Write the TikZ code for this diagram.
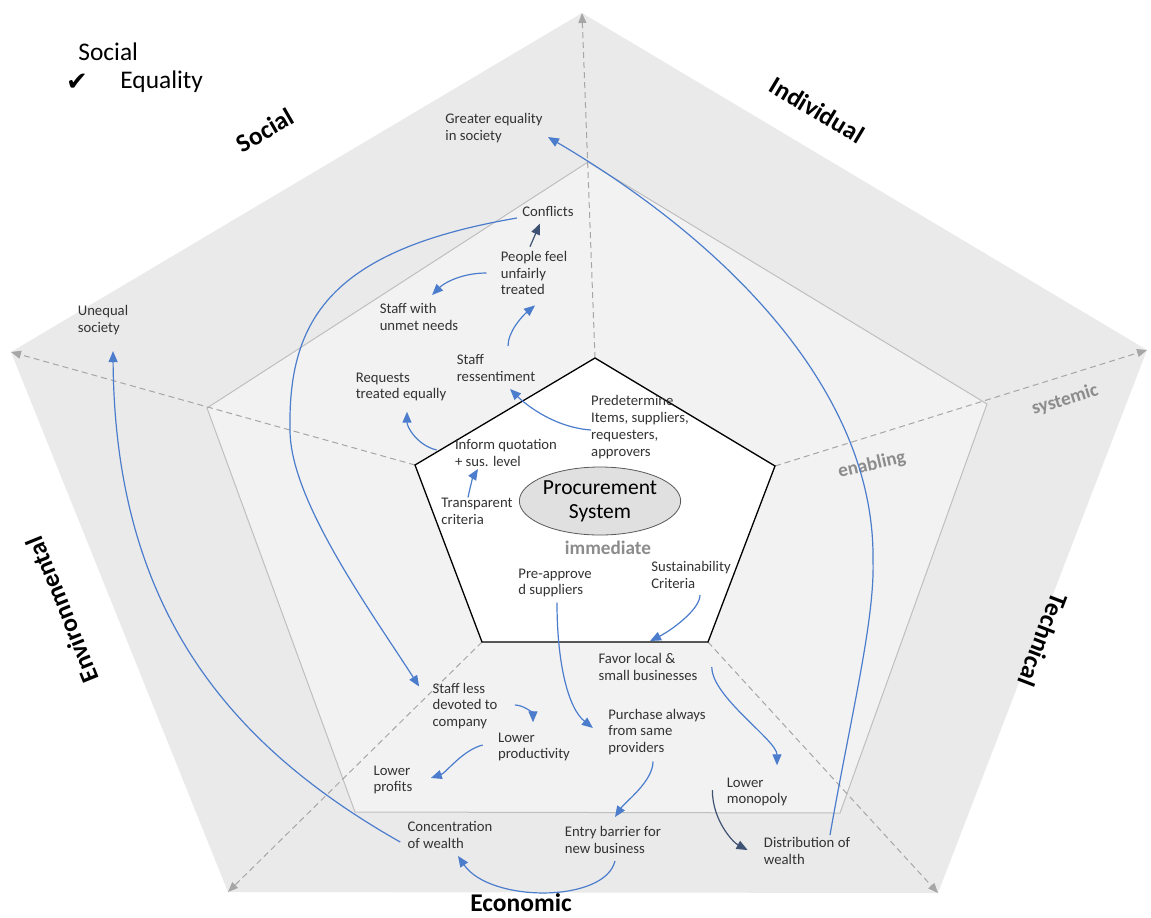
\documentclass[tikz,border=0pt]{standalone}
\usepackage{fontspec}
\setmainfont{Carlito}
\newfontfamily\tickfont{DejaVu Sans}
\usetikzlibrary{arrows.meta,shapes.geometric}
\definecolor{flowblue}{RGB}{76,125,205}
\definecolor{flowdark}{RGB}{62,82,115}
\definecolor{outerfill}{RGB}{234,234,234}
\definecolor{midfill}{RGB}{242,242,242}
\definecolor{levelgray}{RGB}{140,140,140}
\begin{document}
\begin{tikzpicture}[x=0.5pt,y=-0.5pt,
    lbl/.style={font=\fontsize{7.35}{8.4}\selectfont,align=left,inner sep=0pt,text=black!80},
    dimlbl/.style={font=\bfseries\fontsize{12.75}{14}\selectfont},
    levellbl/.style={font=\bfseries\fontsize{9.6}{11}\selectfont,text=levelgray},
    flow/.style={draw=flowblue,line width=0.6pt,-{Triangle[length=5.5pt,width=4.5pt]}},
    flowdk/.style={flow,draw=flowdark},
    axisline/.style={draw=black!35,line width=0.5pt,dash pattern=on 3pt off 2pt,
      -{Triangle[length=5pt,width=4pt]}}]
  \useasboundingbox (0,0) rectangle (1151,917);
  % pentagon corners: outer, middle, inner
  \coordinate (oT) at (582,13);   \coordinate (oR) at (1147,350);
  \coordinate (oBR) at (938,893); \coordinate (oBL) at (228,892);
  \coordinate (oL) at (11,352);
  \coordinate (mT) at (588,162);  \coordinate (mR) at (987,404);
  \coordinate (mBR) at (840,813); \coordinate (mBL) at (355,812);
  \coordinate (mL) at (207,408);
  \coordinate (iT) at (595,358);  \coordinate (iR) at (775,466);
  \coordinate (iBR) at (708,642); \coordinate (iBL) at (482,642);
  \coordinate (iL) at (415,465);
  \fill[outerfill] (oT)--(oR)--(oBR)--(oBL)--(oL)--cycle;
  \filldraw[fill=midfill,draw=black!25,line width=0.5pt] (mT)--(mR)--(mBR)--(mBL)--(mL)--cycle;
  \draw[axisline] (iT)--(oT);
  \draw[axisline] (iR)--(oR);
  \draw[axisline] (iBR)--(oBR);
  \draw[axisline] (iBL)--(oBL);
  \draw[axisline] (iL)--(oL);
  \filldraw[fill=white,draw=black,line width=0.65pt] (iT)--(iR)--(iBR)--(iBL)--(iL)--cycle;

  \node[ellipse,draw=black!65,fill=black!12,minimum width=80pt,minimum height=34pt,
    inner sep=0pt,align=center,font=\fontsize{10.75}{12}\selectfont] (ps) at (600,501)
    {Procurement\\System};

  % dimensions and levels
  \node[dimlbl,rotate=30] (social) at (265,130) {Social};
  \node[dimlbl,rotate=-31] (indiv) at (817,110) {Individual};
  \node[dimlbl,rotate=-111] (tech) at (1043,640) {Technical};
  \node[dimlbl,inner sep=0pt] (econ) at (521,903) {Economic};
  \node[dimlbl,rotate=112] (envir) at (62,610) {Environmental};
  \node[levellbl] (immed) at (608,548) {immediate};
  \node[levellbl,rotate=13] (enabl) at (872,465) {enabling};
  \node[levellbl,rotate=17] (syst) at (1065,400) {systemic};

  % legend
  \node[anchor=west,inner sep=0pt,font=\fontsize{12.7}{14}\selectfont] (legsoc) at (78,52) {Social};
  \node[font=\tickfont\fontsize{13}{14}\selectfont,inner sep=0pt] (legtick) at (77,82) {✔};
  \node[anchor=west,inner sep=0pt,font=\fontsize{12.7}{14}\selectfont] (legeq) at (120,82) {Equality};

  % effects
  \node[lbl] (geq) at (494,128) {Greater equality\\in society};
  \node[lbl] (confl) at (548,211) {Conflicts};
  \node[lbl] (unfair) at (534,273) {People feel\\unfairly\\treated};
  \node[lbl] (unmet) at (419,317) {Staff with\\unmet needs};
  \node[lbl] (resent) at (496,368) {Staff\\ressentiment};
  \node[lbl] (reqeq) at (401,387) {Requests\\treated equally};
  \node[lbl] (predet) at (640,427) {Predetermine\\Items, suppliers,\\requesters,\\approvers};
  \node[lbl] (inform) at (506,453) {Inform quotation\\+ sus. level};
  \node[lbl] (transp) at (477,511) {Transparent\\criteria};
  \node[lbl] (preappr) at (555,583) {Pre-approve\\d suppliers};
  \node[lbl] (suscrit) at (691,575) {Sustainability\\Criteria};
  \node[lbl] (favor) at (648,667) {Favor local \&\\small businesses};
  \node[lbl] (lessdev) at (465,706) {Staff less\\devoted to\\company};
  \node[lbl] (lowprod) at (534,747) {Lower\\productivity};
  \node[lbl] (samesup) at (657,732) {Purchase always\\from same\\providers};
  \node[lbl] (lowprof) at (393,780) {Lower\\profits};
  \node[lbl] (concw) at (450,835) {Concentration\\of wealth};
  \node[lbl] (barrier) at (613,840) {Entry barrier for\\new business};
  \node[lbl] (lowmono) at (757,792) {Lower\\monopoly};
  \node[lbl] (distw) at (807,851) {Distribution of\\wealth};
  \node[lbl] (uneq) at (103,320) {Unequal\\society};

  % causal links
  \draw[flowdk] ([shift={(-4,-4)}]unfair.north) -- ([shift={(-8,7)}]confl.south);
  \draw[flow] ([shift={(-14,0)}]unfair.west) .. controls +(-25,0) and +(12,-12) .. ([shift={(13,-8)}]unmet.north);
  \draw[flow] ([shift={(12,-8)}]resent.north) .. controls +(0,-15) and +(-12,10) .. ([shift={(1,10)}]unfair.south);
  \draw[flow] ([shift={(0,3)}]predet.west) .. controls +(-40,-3) and +(12,12) .. ([shift={(14,7)}]resent.south);
  \draw[flow] ([shift={(-18,-3)}]inform.west) .. controls +(-20,-5) and +(0,15) .. ([shift={(6,10)}]reqeq.south);
  \draw[flow] ([shift={(-9,0)}]transp.north) .. controls +(2,-10) and +(-5,8) .. ([shift={(-28,2)}]inform.south);
  \draw[flow] ([shift={(-5,7)}]confl.west) .. controls (330,250) and (288,320) .. (290,430)
    .. controls (290,500) and (370,610) .. ([shift={(-13,4)}]lessdev.north west);
  \draw[flow] ([shift={(9,6)}]suscrit.south) .. controls +(0,15) and +(20,-10) .. ([shift={(2,-12)}]favor.north);
  \draw[flow] ([shift={(2,5)}]preappr.south) .. controls +(0,60) and +(-25,-20) .. ([shift={(-15,-4)}]samesup.west);
  \draw[flow] ([shift={(14,0)}]favor.east) .. controls +(0,30) and +(0,-25) .. ([shift={(20,-12)}]lowmono.north);
  \draw[flow] ([shift={(17,-1)}]lessdev.east) .. controls +(10,0) and +(0,-8) .. ([shift={(-1,-10)}]lowprod.north);
  \draw[flow] ([shift={(-15,-2)}]lowprod.west) .. controls +(-20,5) and +(15,-5) .. ([shift={(18,-2)}]lowprof.east);
  \draw[flow] ([shift={(-4,6)}]samesup.south) .. controls +(0,20) and +(10,-15) .. ([shift={(2,-9)}]barrier.north);
  \draw[flow] ([shift={(2,7)}]barrier.south) .. controls +(-10,42) and +(32,47) .. ([shift={(8,7)}]concw.south);
  \draw[flowdk] ([shift={(-14,-2)}]lowmono.west) .. controls +(0,30) and +(-15,-8) .. ([shift={(-16,-1)}]distw.west);
  \draw[flow] ([shift={(23,-2)}]distw.north) .. controls (850,720) and (875,620) .. (873,560)
    .. controls (875,400) and (740,250) .. ([shift={(5,9)}]geq.east);
  \draw[flow] ([shift={(-7,7)}]concw.west) .. controls (220,740) and (115,600) .. ([shift={(10,16)}]uneq.south);
\end{tikzpicture}
\end{document}
